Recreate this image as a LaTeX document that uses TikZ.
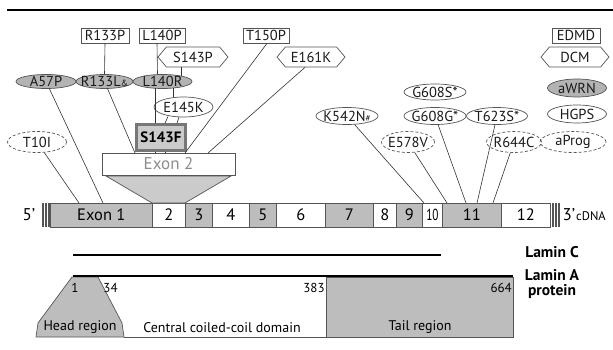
\documentclass[tikz,border=0pt]{standalone}
\usepackage{fontspec}
\setmainfont{PT Sans}
\usetikzlibrary{shapes.geometric,shapes.symbols}
\definecolor{fillg}{HTML}{BDBDBD}
\definecolor{ellg}{HTML}{B3B3B3}
\definecolor{edge}{HTML}{555555}
\definecolor{lightg}{HTML}{CBCBCB}
\tikzset{
  lab/.style={font=\fontsize{14.5}{14.5}\selectfont, inner sep=0pt, text=black!90},
  mbox/.style={lab, draw=edge, line width=0.7pt, rectangle, minimum height=15pt},
  mhex/.style={lab, draw=edge, line width=0.7pt, shape=signal, signal to=west and east, signal pointer angle=100, minimum height=20pt, inner xsep=-4pt},
  mell/.style={lab, draw=edge, line width=0.7pt, ellipse, inner xsep=-9pt, inner ysep=-3pt},
  gell/.style={mell, fill=ellg},
  dell/.style={mell, dashed, dash pattern=on 3pt off 2pt},
  conn/.style={draw=black!80, line width=0.6pt},
  exon/.style={draw=edge, line width=0.7pt, minimum height=24pt, inner sep=0pt, font=\fontsize{16.5}{16.5}\selectfont, anchor=west},
  exg/.style={exon, fill=fillg},
  bold12/.style={font=\fontsize{15.5}{16}\selectfont\bfseries, inner sep=0pt},
  num/.style={font=\fontsize{13}{13}\selectfont, inner sep=0pt},
  reg/.style={font=\fontsize{14}{14}\selectfont, inner sep=0pt},
}
\begin{document}
\begin{tikzpicture}[x=1pt,y=-1pt]
\useasboundingbox (0,0) rectangle (613,350);
% top rule
\coordinate (rl) at (7,10); \coordinate (rr) at (613,10);
\draw[line width=2pt] (rl) -- (rr);

% exon bar
\node[exg, minimum width=102pt] (e1) at (50,215) {Exon 1};
\node[exon, minimum width=33pt] (e2) at (152,215) {2};
\node[exg, minimum width=27pt] (e3) at (185,215) {3};
\node[exon, minimum width=37pt] (e4) at (212,215) {4};
\node[exg, minimum width=27pt] (e5) at (249,215) {5};
\node[exon, minimum width=49pt] (e6) at (276,215) {6};
\node[exg, minimum width=48pt] (e7) at (325,215) {7};
\node[exon, minimum width=23pt] (e8) at (373,215) {8};
\node[exg, minimum width=26pt] (e9) at (396,215) {9};
\node[exon, minimum width=20pt, font=\fontsize{16}{16}\selectfont\addfontfeature{FakeStretch=0.7}] (e10) at (422,215) {10};
\node[exg, minimum width=59pt] (e11) at (442,215) {11};
\node[exon, minimum width=49pt] (e12) at (501,215) {12};
\foreach \x in {43,46,49} \draw[edge, line width=1.1pt] (\x,203) -- (\x,227);
\foreach \x in {553,556,559} \draw[edge, line width=1.1pt] (\x,203) -- (\x,227);
\node[font=\fontsize{17}{17}\selectfont, inner sep=0pt] (five) at (29,215) {5’};
\node[font=\fontsize{17}{17}\selectfont, inner sep=0pt] (three) at (569,215) {3’};
\node[font=\fontsize{12.5}{12.5}\selectfont, inner sep=0pt, anchor=west] (cdna) at (576,216.5) {cDNA};

% exon 2 zoom
\coordinate (tz1) at (106,176); \coordinate (tz2) at (231,176);
\coordinate (tz3) at (185,203); \coordinate (tz4) at (152,203);
\draw[edge, line width=0.7pt, fill=lightg] (tz1) -- (tz2) -- (tz3) -- (tz4) -- cycle;
\node[draw=edge, line width=0.7pt, fill=white, minimum width=133pt, minimum height=22pt, inner sep=0pt, text=black!45, font=\fontsize{17}{17}\selectfont] (x2) at (168.5,164) {Exon 2};

% mutation nodes left
\node[mbox, minimum width=48pt] (r133p) at (105,35.5) {R133P};
\node[mbox, minimum width=46pt] (l140p) at (162,35.5) {L140P};
\node[mbox, minimum width=46pt] (t150p) at (266,35.5) {T150P};
\node[mhex, minimum width=70pt] (s143p) at (193,57) {S143P};
\node[mhex, minimum width=68pt] (e161k) at (311,57) {E161K};
\node[gell, minimum width=60pt, minimum height=14pt] (a57p) at (46,81.5) {A57P};
\node[gell, minimum width=57pt, minimum height=14pt] (r133l) at (104.5,81.5) {R133L{\fontsize{9}{9}\selectfont\&}};
\node[gell, minimum width=59pt, minimum height=14pt] (l140r) at (162.5,81.5) {L140R};
\node[mell, minimum width=59pt, minimum height=20pt] (e145k) at (183.5,107) {E145K};
\node[draw=edge!80, line width=2.6pt, fill=lightg, minimum width=49pt, minimum height=26pt, inner sep=0pt, font=\fontsize{15}{15}\selectfont\bfseries] (s143f) at (161,137.5) {S143F};
\node[dell, minimum width=59pt, minimum height=21pt] (t10i) at (37,142) {T10I};

% mutation nodes middle
\node[mell, minimum width=62pt, minimum height=16pt] (g608s) at (435,92) {G608S*};
\node[mell, minimum width=62pt, minimum height=17pt] (k542n) at (347,116) {K542N{\fontsize{9}{9}\selectfont\#}};
\node[mell, minimum width=62pt, minimum height=17pt] (g608g) at (435,116) {G608G*};
\node[mell, minimum width=61pt, minimum height=17pt] (t623s) at (497,116) {T623S*};
\node[dell, minimum width=53pt, minimum height=21pt] (e578v) at (408,142) {E578V};
\node[dell, minimum width=55pt, minimum height=21pt] (r644c) at (514,142) {R644C};

% legend
\node[mbox, minimum width=48pt] (edmd) at (576,35.5) {EDMD};
\node[mhex, minimum width=68pt] (dcm) at (575,57) {DCM};
\node[gell, minimum width=59pt, minimum height=18pt] (awrn) at (577,88) {aWRN};
\node[mell, minimum width=59pt, minimum height=18pt] (hgps) at (577,114) {HGPS};
\node[dell, minimum width=66pt, minimum height=21pt] (aprog) at (573,142) {aProg};

% connector endpoints
\coordinate (p1) at (103,203);
\coordinate (p2) at (79,203);
\coordinate (q1) at (135,153);
\coordinate (q2) at (185,153);
\coordinate (q3) at (208,153);
\coordinate (m1) at (424,203);
\coordinate (m2) at (447,203);
\coordinate (m3) at (466,203);
\coordinate (m4) at (477,203);
\coordinate (m5) at (493,203);
\coordinate (u1) at (181,76.2);
\coordinate (u2) at (155,88.3);
\coordinate (u3) at (173,88);
\coordinate (u4) at (168,116.5);
\coordinate (u5) at (179,117);

% connectors
\draw[conn] (r133p.south) -- (r133l.north);
\draw[conn] ([xshift=-5pt]l140p.south) -- ([xshift=-5pt]l140r.north);
\draw[conn] ([xshift=-12pt]s143p.south) -- (u1);
\draw[conn] (u2) -- (u2 |- s143f.north);
\draw[conn] (u3) -- (u3 |- e145k.north);
\draw[conn] (u4) -- ([xshift=4pt]s143f.north);
\draw[conn] (u5) -- ([xshift=16pt]s143f.north);
\draw[conn] ([xshift=-6pt]s143f.south) -- ([xshift=-6pt]x2.north -| s143f.south);
\draw[conn] ([xshift=4pt]s143f.south) -- ([xshift=4pt]x2.north -| s143f.south);
\draw[conn] (r133l) -- (q1);
\draw[conn] ([xshift=1pt]t150p.south) -- (q2);
\draw[conn] ([xshift=-6pt]e161k.south) -- (q3);
\draw[conn] (a57p) -- (p1);
\draw[conn] (t10i) -- (p2);
\draw[conn] (k542n) -- (m1);
\draw[conn] (e578v) -- (m2);
\draw[conn] (g608g) -- (m3);
\draw[conn] (t623s) -- (m4);
\draw[conn] (r644c) -- (m5);

% lamin C / A lines
\coordinate (lc1) at (73,255); \coordinate (lc2) at (441,255);
\coordinate (la1) at (73,276); \coordinate (la2) at (513,276);
\draw[line width=2.4pt] (lc1) -- (lc2);
\node[bold12] (lamc) at (552,252) {Lamin C};
\node[bold12, align=center] (lama) at (552,284) {Lamin A\\[-1pt]protein};

% protein domains
\coordinate (h1) at (72,277); \coordinate (h2) at (98,277);
\coordinate (h3) at (122,323); \coordinate (h4) at (124,337);
\coordinate (h5) at (36,337); \coordinate (h6) at (38,323);
\draw[edge, line width=0.7pt, fill=fillg] (h1) -- (h2) -- (h3) -- (h4) -- (h5) -- (h6) -- cycle;
\coordinate (t1) at (326,277); \coordinate (t2) at (513,337);
\draw[edge, line width=0.7pt, fill=fillg] (t1) rectangle (t2);
\coordinate (b1) at (124,337);
\draw[edge, line width=0.7pt] (b1) -- (t1 |- t2);
\draw[line width=2.4pt] (la1) -- (la2);
\node[num] (n1) at (75,288) {1};
\node[num] (n34) at (110.5,288) {34};
\node[num] (n383) at (314,287.5) {383};
\node[num, anchor=east] (n664) at (512,288) {664};
\node[reg] (head) at (80,327.5) {Head region};
\node[reg] (cent) at (222,327.5) {Central coiled-coil domain};
\node[reg] (tail) at (420,327.5) {Tail region};
\end{tikzpicture}
\end{document}
